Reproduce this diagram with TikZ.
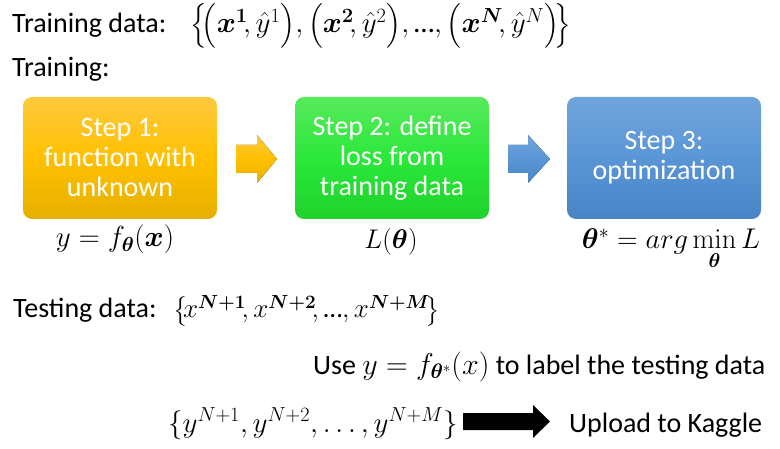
\RequirePackage{fix-cm}
\documentclass[tikz,border=0pt]{standalone}
\usepackage[no-math]{fontspec}
\setmainfont{Carlito}
\usepackage{amsmath,bm}
\definecolor{oTop}{HTML}{FFC93E}
\definecolor{oMid}{HTML}{FFC000}
\definecolor{oBot}{HTML}{E6B000}
\definecolor{gTop}{HTML}{58E95C}
\definecolor{gMid}{HTML}{2BE83A}
\definecolor{gBot}{HTML}{1FD22C}
\definecolor{bTop}{HTML}{6FA4DB}
\definecolor{bMid}{HTML}{5A96D6}
\definecolor{bBot}{HTML}{4984C7}
\newcommand{\msz}[1]{\fontsize{#1}{30}\selectfont}
\tikzset{
  stepbox/.style={rectangle,rounded corners=9pt,minimum width=194pt,minimum height=122pt,
    inner sep=0pt,text=white,align=center,font=\fontsize{28}{30}\selectfont},
  orangebox/.style={stepbox,top color=oTop,bottom color=oBot,middle color=oMid},
  greenbox/.style={stepbox,top color=gTop,bottom color=gBot,middle color=gMid},
  bluebox/.style={stepbox,top color=bTop,bottom color=bBot,middle color=bMid},
  txt/.style={inner sep=0pt,anchor=base west,font=\fontsize{28}{30}\selectfont},
  mth/.style={inner sep=0pt,anchor=base},
}
\begin{document}
\begin{tikzpicture}[x=1pt,y=-1pt]
\path[use as bounding box,fill=white] (0,0) rectangle (780,449);
% top
\node[txt] (trd) at (12,33) {Training data:};
\node[txt,font=\msz{29}] (trset) at (190,33)
  {$\big\{\!\big(\bm{x}^{\mathbf{1}}\!,\hat{y}^1\big),\big(\bm{x}^{\mathbf{2}}\!,\hat{y}^2\big),\text{…},\big(\bm{x}^{\bm{N}}\!,\hat{y}^N\big)\!\big\}$};
\node[txt] (tr) at (12,77) {Training:};
% boxes
\node[orangebox] (s1) at (120,158) {Step 1:\\function with\\unknown};
\node[greenbox] (s2) at (392,158) {Step 2: define\\loss from\\training data};
\node[bluebox] (s3) at (664,158) {Step 3:\\optimization};
% block arrows
\fill[top color=oTop,bottom color=oBot,middle color=oMid]
  (236,145) -- (257,145) -- (257,135) -- (277,159) -- (257,183) -- (257,173) -- (236,173) -- cycle;
\fill[top color=bTop,bottom color=bBot,middle color=bMid]
  (508,145) -- (528,145) -- (528,135) -- (550,159) -- (528,183) -- (528,173) -- (508,173) -- cycle;
% formulas
\node[mth,font=\msz{29}] (f1) at (115,247) {$y=f_{\bm{\theta}}(\bm{x})$};
\node[mth,font=\msz{27}] (f2) at (391,249) {$L(\bm{\theta})$};
\node[mth,font=\msz{28.5}] (f3) at (671,249) {$\bm{\theta}^{*}=arg\min\limits_{\bm{\theta}}L$};
% testing
\node[txt] (ted) at (13,318) {Testing data:};
\node[txt,font=\msz{27}] (teset) at (173,318)
  {$\big\{\!x^{\bm{N+1}}\!,x^{\bm{N+2}}\!,\text{…},x^{\bm{N+M}}\!\big\}$};
\node[txt] (use) at (313,374)
  {Use {\msz{30}$y=f_{\bm{\theta}^{*}}(x)$} to label the testing data};
\node[txt,font=\msz{29}] (yset) at (168,432)
  {$\{y^{N+1},y^{N+2},\dots,y^{N+M}\}$};
\node[txt] (up) at (569,432) {Upload to Kaggle};
\fill[black] (463,413) -- (533,413) -- (533,405) -- (550,421.5) -- (533,438) -- (533,430) -- (463,430) -- cycle;
\end{tikzpicture}
\end{document}
